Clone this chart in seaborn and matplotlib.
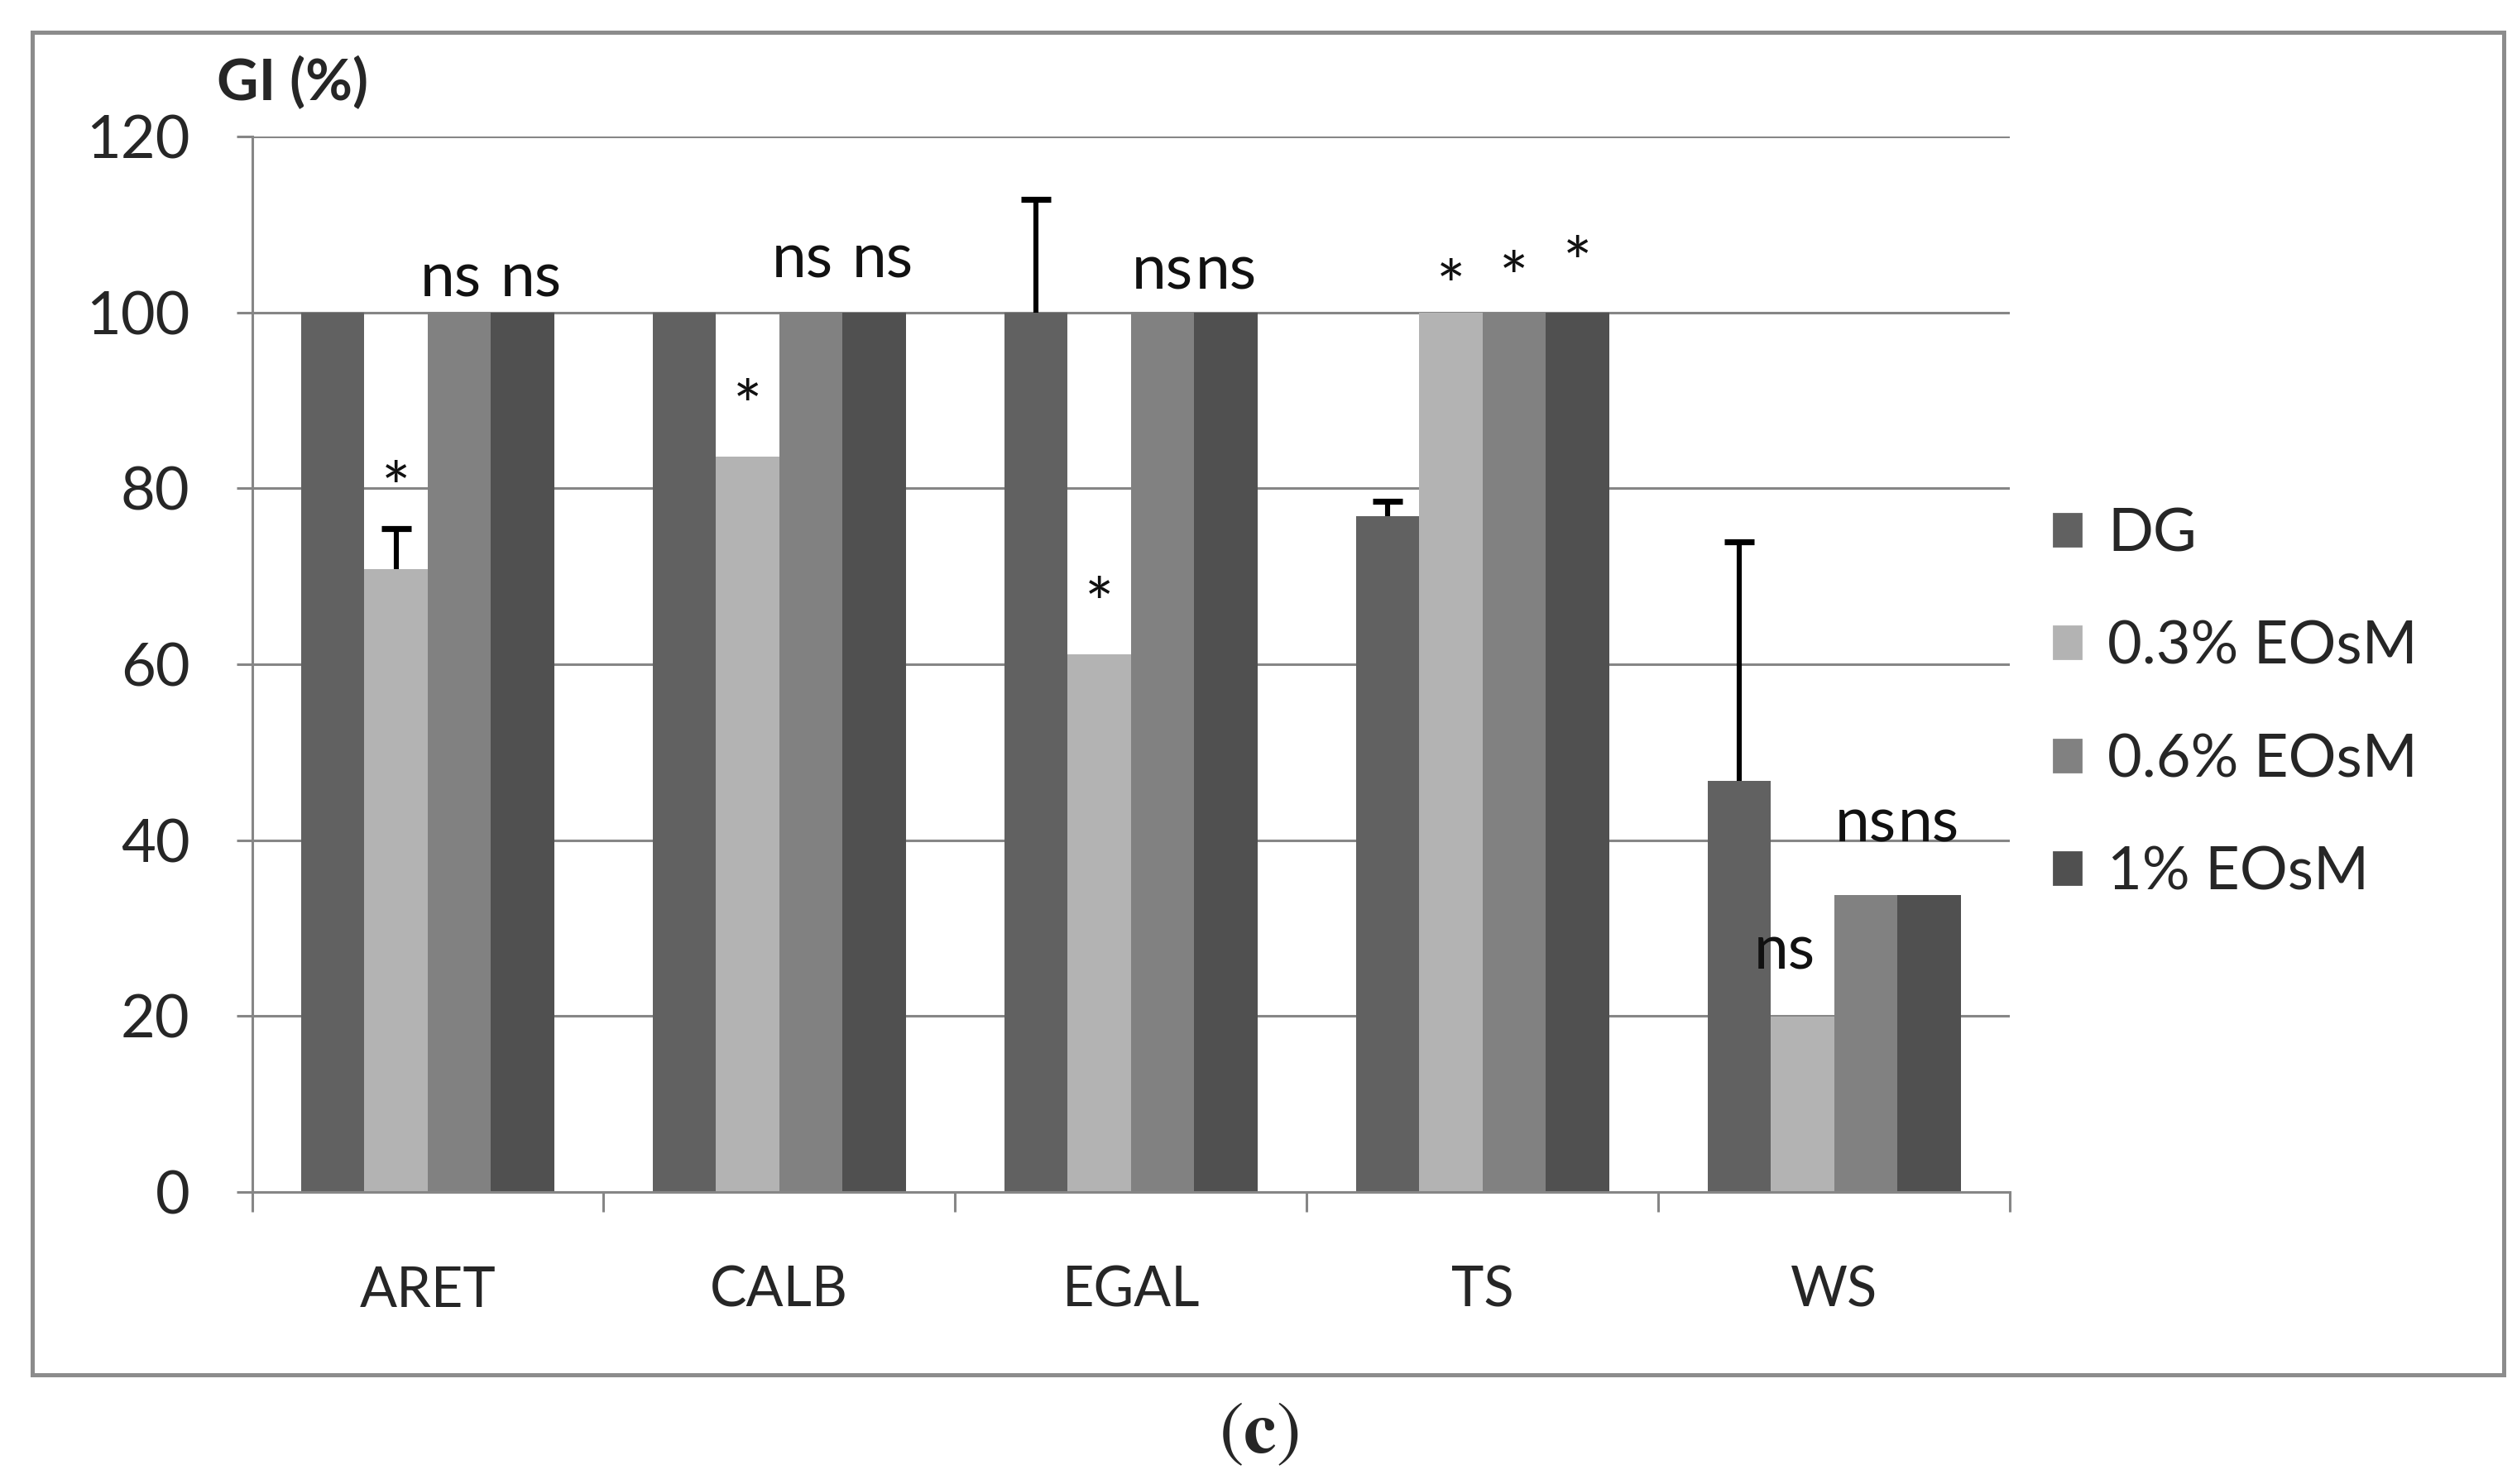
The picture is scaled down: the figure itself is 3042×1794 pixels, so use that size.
import pandas as pd
import numpy as np
import matplotlib
matplotlib.use("Agg")
import matplotlib.pyplot as plt
import matplotlib.patches as mpatches
import seaborn as sns

# Data
species = ["ARET", "CALB", "EGAL", "TS", "WS"]
treatments = ["DG", "0.3% EOsM", "0.6% EOsM", "1% EOsM"]
gi_dg = [100, 100, 100, 76.8, 46.7]
gi_03 = [70.8, 83.6, 61.1, 100, 19.9]
gi_06 = [100, 100, 100, 100, 33.8]
gi_1 = [100, 100, 100, 100, 33.8]
# upper error (only positive side drawn)
err_dg = [0, 0, 12.8, 1.7, 27.2]
err_03 = [4.6, 0, 0, 0, 0]
err_06 = [0, 0, 0, 0, 0]
err_1 = [0, 0, 0, 0, 0]
# significance labels and their heights
sig_dg = ["", "", "", "", ""]
sig_03 = ["*", "*", "*", "*", "ns"]
sig_06 = ["ns", "ns", "ns", "*", "ns"]
sig_1 = ["ns", "ns", "ns", "*", "ns"]
sig_y_dg = [0, 0, 0, 0, 0]
sig_y_03 = [79.5, 88.8, 66.3, 102.4, 27.4]
sig_y_06 = [103.8, 106.0, 104.7, 103.3, 41.8]
sig_y_1 = [103.8, 106.0, 104.7, 105.0, 41.8]

colors = ["#616161", "#b3b3b3", "#818181", "#505050"]
grid_col = "#868686"

df = pd.DataFrame({
    "species": np.repeat(species, 4),
    "treatment": treatments * len(species),
    "gi": np.array([gi_dg, gi_03, gi_06, gi_1]).T.ravel(),
})

sns.set_style("white")
plt.rcParams["font.family"] = ["Lato", "DejaVu Sans"]

fig = plt.figure(figsize=(15.21, 8.97), dpi=200)
ax = fig.add_axes([0.1001, 0.1968, 0.6984, 0.7113])

sns.barplot(data=df, x="species", y="gi", hue="treatment",
            order=species, hue_order=treatments, palette=colors,
            width=0.72, saturation=1, errorbar=None, linewidth=0,
            ax=ax, zorder=2)

# small horizontal nudges so the paired labels don't run together
nudge = {("WS", 1): -0.05, ("ARET", 2): -0.025, ("ARET", 3): 0.025,
         ("CALB", 2): -0.025, ("CALB", 3): 0.025}

# error bars + significance marks on top of the seaborn bars
errs = [err_dg, err_03, err_06, err_1]
sigs = [sig_dg, sig_03, sig_06, sig_1]
sig_ys = [sig_y_dg, sig_y_03, sig_y_06, sig_y_1]
bar_conts = list(ax.containers)
for k, cont in enumerate(bar_conts):
    for i, bar in enumerate(cont.patches):
        xc = bar.get_x() + bar.get_width() / 2
        h = bar.get_height()
        if errs[k][i] > 0:
            eb = ax.errorbar(xc, h, yerr=[[0], [errs[k][i]]], fmt="none",
                             ecolor="black", elinewidth=2.2, capsize=6.5,
                             capthick=2.6, zorder=3)
            eb[1][0].set_visible(False)  # no cap on the lower end
        if sigs[k][i]:
            dx = nudge.get((species[i], k), 0)
            fs = 27 if sigs[k][i] == "ns" else 30
            ax.text(xc + dx, sig_ys[k][i], sigs[k][i], ha="center",
                    va="center", fontsize=fs, color="#111111", zorder=4)

ax.set_ylim(0, 120)
ax.set_xlim(-0.5, len(species) - 0.5)
ax.set_yticks(range(0, 121, 20))
ax.yaxis.grid(True, color=grid_col, linewidth=1.1)
ax.set_axisbelow(True)
ax.set_xlabel("")
ax.set_ylabel("")

for side in ["top", "right"]:
    ax.spines[side].set_visible(False)
for side in ["left", "bottom"]:
    ax.spines[side].set_color(grid_col)
    ax.spines[side].set_linewidth(1.1)

ax.tick_params(axis="y", length=7, width=1.1, color=grid_col, pad=20,
               labelsize=26, left=True)
ax.set_xticks(np.arange(len(species)))
ax.set_xticklabels(species)
ax.tick_params(axis="x", which="major", length=0, pad=32, labelsize=24)
ax.set_xticks(np.arange(-0.5, len(species)), minor=True)
ax.tick_params(axis="x", which="minor", length=8.5, width=1.1,
               color=grid_col, bottom=True)

handles = [mpatches.Patch(color=c, label=t) for c, t in zip(colors, treatments)]
if ax.get_legend() is not None:
    ax.get_legend().remove()
fig.legend(handles=handles, loc="center left", bbox_to_anchor=(0.816, 0.526),
           frameon=False, fontsize=26, handlelength=0.45, handleheight=0.45,
           handletextpad=0.45, labelspacing=0.99, borderpad=0, borderaxespad=0)

fig.text(0.086, 0.944, "GI (%)", fontsize=25, fontweight="bold",
         ha="left", va="center")
fig.text(0.5, 0.034, r"$(\mathbf{c})$", fontsize=32, ha="center",
         va="center", math_fontfamily="stix")

frame = mpatches.Rectangle((0.0128, 0.0735), 0.982, 0.905,
                           transform=fig.transFigure, fill=False,
                           edgecolor="#8c8c8c", linewidth=1.8)
fig.patches.append(frame)

fig.savefig("out.png", dpi=200)
